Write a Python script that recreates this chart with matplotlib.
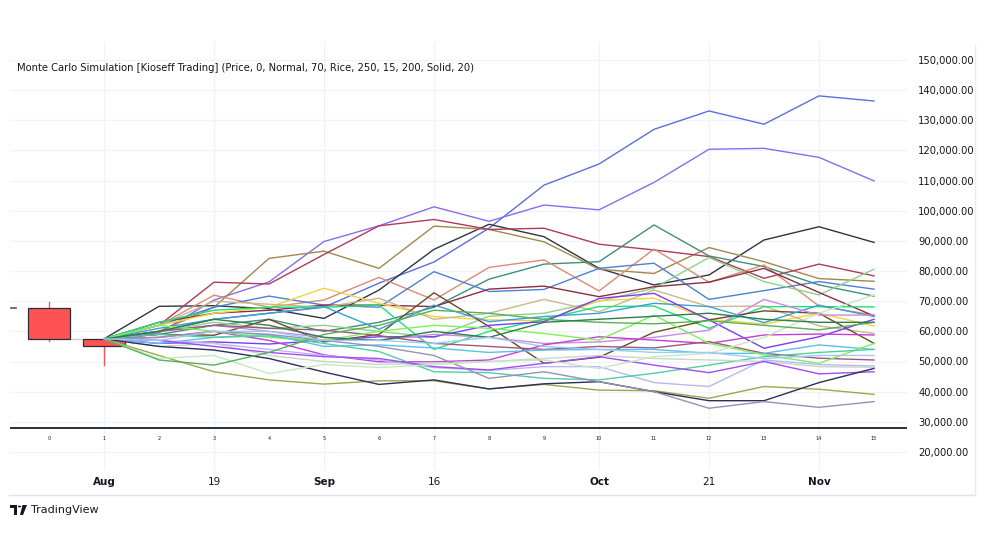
import numpy as np
import matplotlib
matplotlib.use("Agg")
import matplotlib.pyplot as plt
from matplotlib.patches import Rectangle, Polygon, Circle

# price candles (index 0 and 1)
candle_open = [67.7, 57.5]
candle_close = [57.5, 55.1]
candle_high = [69.7, 57.5]
candle_low = [56.8, 48.8]

# simulated paths, thousands, indices 1..15
path_colors = [
    "#5b6ee1", "#8a6cf0", "#2f3542", "#a08850", "#b03a5b", "#3f8f7a",
    "#d98c75", "#4f7fd6", "#8fd18a", "#8b2f3f", "#f2d43a", "#c8b98a",
    "#1ee07a", "#6b4a2b", "#3aa0d8", "#7a3df0", "#c68be0", "#c13fd6",
    "#a0577a", "#5bc0eb", "#b8b8f0", "#7df05a", "#4fd0a0", "#c9d6c9",
    "#a34cf5", "#9aa84a", "#2c2f5a", "#9a8fb5", "#c5e8c0", "#58b05a",
    "#2e7d4f", "#9ecbf0",
]
paths = [
    [57.5, 60, 64, 66, 68, 76, 83, 94.2, 108.5, 115.5, 127, 133.1, 128.7, 138.1, 136.4],
    [57.5, 59.5, 70.4, 76.4, 89.8, 95, 101.3, 96.5, 101.9, 100.3, 109.4, 120.4, 120.7, 117.7, 109.9],
    [57.5, 68.3, 68.5, 67.5, 64.3, 73.7, 87.2, 95.5, 91.4, 80.9, 75.4, 78.7, 90.3, 94.7, 89.5],
    [57.5, 60, 68, 84.2, 86.6, 80.9, 94.9, 93.8, 89.7, 80.6, 79.2, 87.8, 83.1, 77.5, 76.6],
    [57.5, 62, 76.3, 75.7, 85.5, 95, 97.1, 93.8, 94.2, 88.9, 87, 84.8, 77.6, 82.3, 78.4],
    [57.5, 59, 62, 64, 60, 63, 68, 77.3, 82.3, 83.1, 95.3, 85, 81.5, 75.4, 71.7],
    [57.5, 62, 72, 68, 70.4, 77.9, 70.4, 81.2, 83.7, 73.4, 87.3, 76.3, 82, 68.4, 65.4],
    [57.5, 62, 68, 71.7, 68.7, 68, 79.8, 73.2, 73.9, 80.9, 82.6, 70.6, 73.5, 76.5, 74],
    [57.5, 60, 63, 61, 62, 60, 58, 65, 66, 70, 74.3, 84.5, 76.5, 72.1, 80.6],
    [57.5, 63, 66, 67, 68.7, 68.7, 68.2, 74, 75, 71.5, 74.8, 76.3, 80.9, 72.9, 65.1],
    [57.5, 62, 66, 68, 74.3, 69.3, 64.9, 63.8, 63.5, 70.2, 71, 64, 62.4, 66, 61.8],
    [57.5, 62, 70, 69, 68, 71, 64, 66, 70.6, 66.5, 73.7, 68.2, 68.4, 61.8, 59.3],
    [57.5, 63, 67, 68, 68, 68.7, 54, 60, 64, 68.2, 68.4, 61, 68.2, 68.2, 68.1],
    [57.5, 59, 58.7, 64, 56.5, 59, 72.8, 61.6, 49.4, 51.4, 59.7, 63.8, 66.8, 66, 56],
    [57.5, 61, 64, 66, 68.2, 60.7, 68.7, 63.2, 64.9, 66, 69.3, 68.2, 62.9, 68.7, 64.9],
    [57.5, 56, 56.5, 55.8, 57, 58.2, 58.2, 62, 63.2, 70.9, 72.6, 63.8, 54.4, 58.2, 64],
    [57.5, 60, 62, 60, 58, 57, 59, 58, 56, 56.5, 58, 60.4, 70.6, 65.4, 65.4],
    [57.5, 58, 60, 57, 52.2, 49.9, 49.9, 50.5, 55.5, 58.2, 57.1, 56, 58.8, 59.1, 58.8],
    [57.5, 60, 62, 61, 60.4, 58.6, 56, 55, 54, 55, 54.5, 56.6, 52.7, 51.1, 50.5],
    [57.5, 56, 58, 59, 55, 55.5, 54.5, 53, 53.8, 54, 54, 52.7, 52.7, 55.5, 54],
    [57.5, 57, 56, 54, 52, 50.5, 48, 47, 48.3, 48.3, 43, 41.7, 50.5, 49, 48.5],
    [57.5, 62, 60, 58, 57, 60, 62, 61, 59.3, 57.1, 65.4, 56, 52.2, 49.4, 56],
    [57.5, 59, 58, 58.5, 56, 53.3, 46.6, 46.3, 44.4, 43.9, 46.1, 48.8, 51.6, 53, 54],
    [57.5, 55, 56, 52, 50, 49, 49.5, 50, 51, 52, 51, 50.5, 50, 48.3, 48.1],
    [57.5, 57, 55, 53, 51.6, 51, 48.3, 47.2, 49.4, 51.6, 48.8, 46.3, 50, 45.9, 46.6],
    [57.5, 52, 46.6, 43.9, 42.5, 43.6, 43.6, 40.9, 42.4, 40.5, 40.3, 37.8, 41.7, 40.8, 39.1],
    [57.5, 55, 53.8, 51, 46.5, 42.4, 43.9, 40.9, 42.6, 43.3, 40, 37, 37, 43, 47.7],
    [57.5, 58, 60, 59, 57, 55, 52, 44.4, 46.6, 43.3, 40, 34.5, 36.7, 34.8, 36.7],
    [57.5, 51, 52, 46, 49, 48, 49, 50, 50.5, 47.7, 51.6, 52.7, 58, 66, 72.1],
    [57.5, 50.5, 48.8, 53, 59, 62, 67, 66, 64, 63, 62.5, 63.5, 62, 60.5, 63],
    [57.5, 60, 64, 62, 58, 57, 60, 58, 63, 64, 65, 66, 64, 63, 63],
    [57.5, 57, 60, 60, 57, 57, 56, 58, 55, 54, 53, 53, 51, 52, 52],
]

index_labels = [str(i) for i in range(16)]
month_pos = [1, 3, 5, 7, 10, 12, 14]
month_labels = ["Aug", "19", "Sep", "16", "Oct", "21", "Nov"]
month_bold = [True, False, True, False, True, False, True]
price_ticks = list(range(20, 151, 10))
title = "Monte Carlo Simulation [Kioseff Trading] (Price, 0, Normal, 70, Rice, 250, 15, 200, Solid, 20)"

W, H = 984, 555
fig = plt.figure(figsize=(W / 100, H / 100), dpi=100)
fig.patch.set_facecolor("white")

# pane in pixels
px_l, px_r, px_t, px_b = 10, 907, 42, 470
ax = fig.add_axes([px_l / W, 1 - px_b / H, (px_r - px_l) / W, (px_b - px_t) / H])
for s in ax.spines.values():
    s.set_visible(False)

x0, dx = 49, 55.0
ax.set_xlim((px_l - x0) / dx, (px_r - x0) / dx)
# value(y) = 150 - (y - 60) / 3.015  (thousands)
ax.set_ylim(150 - (px_b - 60) / 3.015, 150 - (px_t - 60) / 3.015)

ax.set_yticks(price_ticks)
ax.set_yticklabels([f"{v * 1000:,.2f}" for v in price_ticks])
ax.yaxis.tick_right()
ax.tick_params(axis="y", length=0, pad=8, labelsize=7.2, labelcolor="#131722")
ax.set_xticks(month_pos)
ax.set_xticklabels([])
ax.tick_params(axis="x", length=0)
ax.grid(True, color="#f0f3fa", linewidth=0.9)
ax.set_axisbelow(True)

# paths
xs = np.arange(1, 16)
for vals, c in zip(paths, path_colors):
    ax.plot(xs, vals, color=c, linewidth=1.0, zorder=3)

# candles
for i in range(2):
    ax.plot([i, i], [candle_low[i], candle_high[i]], color="#ff5252", linewidth=1, zorder=2)
    lo = min(candle_open[i], candle_close[i])
    ax.add_patch(Rectangle((i - 0.38, lo), 0.76, abs(candle_open[i] - candle_close[i]),
                           facecolor="#ff5252", edgecolor="#2a2e39", linewidth=0.9, zorder=2))
ax.plot([0.38, 0.62], [candle_close[0], candle_close[0]], color="#c8ccd4", linewidth=1, zorder=1)
ax.plot([-0.7, -0.6], [candle_open[0], candle_open[0]], color="#555", linewidth=1.2)

# bottom index line and labels
ax.axhline(27.9, color="#2a2e39", linewidth=1.4, zorder=4)
for i, lab in enumerate(index_labels):
    ax.text(i, 24.6, lab, fontsize=3.5, ha="center", va="center", color="#131722")

ax.text(0.008, 1 - (68 - px_t) / (px_b - px_t), title, transform=ax.transAxes,
        fontsize=7.2, color="#131722", va="center", ha="left")

# month labels below pane
for p, lab, b in zip(month_pos, month_labels, month_bold):
    fig.text((x0 + dx * p) / W, 1 - 482 / H, lab, fontsize=7.5, ha="center", va="center",
             color="#131722", fontweight="bold" if b else "normal")

# frame
fig.add_artist(plt.Line2D([9 / W, 975 / W], [1 - 495 / H] * 2, color="#e0e3eb", linewidth=1))
fig.add_artist(plt.Line2D([975 / W, 975 / W], [1 - 495 / H, 1 - 45 / H], color="#e9ebf0", linewidth=1))

# TradingView logo
def fp(x, y):
    return (x / W, 1 - y / H)

fig.add_artist(Polygon([fp(10, 505), fp(17, 505), fp(17, 515), fp(14, 515), fp(14, 508), fp(10, 508)],
                       closed=True, transform=fig.transFigure, facecolor="#131722", edgecolor="none"))
fig.add_artist(Circle(fp(19.5, 506.5), 1.6 / W, transform=fig.transFigure, facecolor="#131722"))
fig.add_artist(Polygon([fp(22.5, 505), fp(27, 505), fp(23, 515), fp(20, 515)],
                       closed=True, transform=fig.transFigure, facecolor="#131722", edgecolor="none"))
fig.text(31 / W, 1 - 510 / H, "TradingView", fontsize=8, color="#131722", va="center", ha="left")

plt.savefig("out.png", dpi=100, facecolor="white")
